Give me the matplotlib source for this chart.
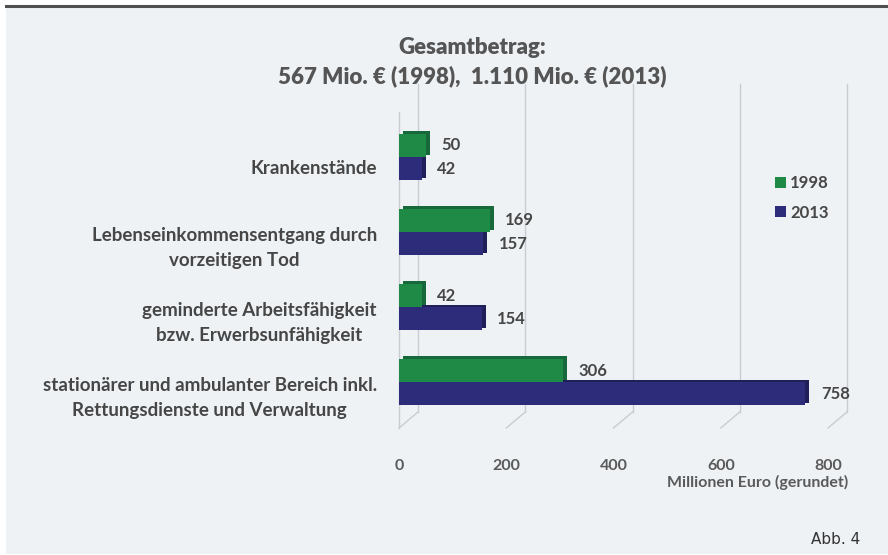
import numpy as np
import matplotlib.pyplot as plt
from matplotlib.patches import Rectangle
from matplotlib.lines import Line2D
import matplotlib.transforms as mtransforms

plt.rcParams['font.family'] = ['Lato', 'DejaVu Sans']

categories = ["Krankenstände",
              "Lebenseinkommensentgang durch\nvorzeitigen Tod",
              "geminderte Arbeitsfähigkeit\nbzw. Erwerbsunfähigkeit",
              "stationärer und ambulanter Bereich inkl.\nRettungsdienste und Verwaltung"]
values_1998 = [50, 169, 42, 306]
values_2013 = [42, 157, 154, 758]
series_names = ["1998", "2013"]
xticks = [0, 200, 400, 600, 800]

green = "#1f8a45"
green_dark = "#17683a"
blue = "#2d2c7a"
blue_dark = "#201f5a"
bg = "#eef2f5"
txt = "#464646"

fig = plt.figure(figsize=(8.88, 5.55), dpi=100)
fig.patch.set_facecolor("white")
# panel background and top rule
fig.add_artist(Rectangle((6/888, 1/555), 1 - 6/888, 548/555, transform=fig.transFigure,
                         facecolor=bg, edgecolor="none", zorder=0))
fig.add_artist(Line2D([6/888, 1], [549.5/555, 549.5/555], transform=fig.transFigure,
                      color="#505050", lw=2.2, zorder=1))

ax = fig.add_axes([399/888, 1 - 428/555, (828 - 399)/888, 328/555])
ax.set_facecolor("none")
ax.set_xlim(0, 800)
ax.set_ylim(3.613, -0.76)

y = np.arange(len(categories))
h = 0.307

# 3D back wall offset (in pixels)
dx_px, dy_px = 19, 16
back = ax.transData + mtransforms.ScaledTranslation(dx_px/100, dy_px/100, fig.dpi_scale_trans)
for xt in xticks:
    ax.plot([xt, xt], [3.613, -0.76], color="#c9cdd2", lw=1, transform=back, zorder=1,
            clip_on=False)
    ax.plot([xt, xt + dx_px/0.53625], [3.613, 3.613 - dy_px/75], color="#c9cdd2", lw=1,
            zorder=1, clip_on=False)
ax.plot([0, 0], [3.613, -0.6], color="#c9cdd2", lw=1, zorder=1, clip_on=False)

# bar depth (side/top faces)
depth = ax.transData + mtransforms.ScaledTranslation(4/100, 2.5/100, fig.dpi_scale_trans)
ax.barh(y + h/2, values_2013, height=h, color=blue_dark, transform=depth, zorder=2)
ax.barh(y - h/2, values_1998, height=h, color=green_dark, transform=depth, zorder=2)
# front faces
ax.barh(y + h/2, values_2013, height=h, color=blue, zorder=3, label=series_names[1])
ax.barh(y - h/2, values_1998, height=h, color=green, zorder=3, label=series_names[0])

for i in range(len(categories)):
    ax.annotate(str(values_1998[i]), (values_1998[i], y[i] - h/2), xytext=(11, 0),
                textcoords="offset points", va="center", ha="left", fontsize=12,
                fontweight="bold", color=txt)
    ax.annotate(str(values_2013[i]), (values_2013[i], y[i] + h/2), xytext=(11, 0),
                textcoords="offset points", va="center", ha="left", fontsize=12,
                fontweight="bold", color=txt)

# category labels sit a little below the group centre, as in the original
ax.set_yticks(y + 10/75)
ax.set_yticklabels(categories, fontsize=13.5, fontweight="bold", color=txt,
                   multialignment="center", linespacing=1.6)
ax.set_xticks(xticks)
ax.set_xticklabels([str(v) for v in xticks], fontsize=11.5, fontweight="bold", color="#5a5a5a")
ax.tick_params(axis="y", length=0, pad=16)
ax.tick_params(axis="x", length=0, pad=22)
for s in ax.spines.values():
    s.set_visible(False)

handles, labels = ax.get_legend_handles_labels()
leg = ax.legend(handles[::-1], labels[::-1], loc="center left",
                bbox_to_anchor=(760/888, 1 - 198/555), bbox_transform=fig.transFigure,
                frameon=False, handlelength=0.65, handleheight=0.65, handletextpad=0.25,
                labelspacing=0.8, prop={"size": 12, "weight": "bold"})
for t in leg.get_texts():
    t.set_color(txt)

fig.text(472/888, 1 - 47/555, "Gesamtbetrag:", ha="center", va="center",
         fontsize=16, fontweight="heavy", color="#555555")
fig.text(472/888, 1 - 76/555, "567 Mio. € (1998),  1.110 Mio. € (2013)", ha="center",
         va="center", fontsize=16, fontweight="heavy", color="#555555")
fig.text(848/888, 1 - 482/555, "Millionen Euro (gerundet)", ha="right", va="center",
         fontsize=11.5, fontweight="bold", color="#5a5a5a")
fig.text(860/888, 1 - 540/555, "Abb. 4", ha="right", va="center", fontsize=11,
         color="#333333", family="DejaVu Sans")

fig.savefig("out.png", dpi=100)
